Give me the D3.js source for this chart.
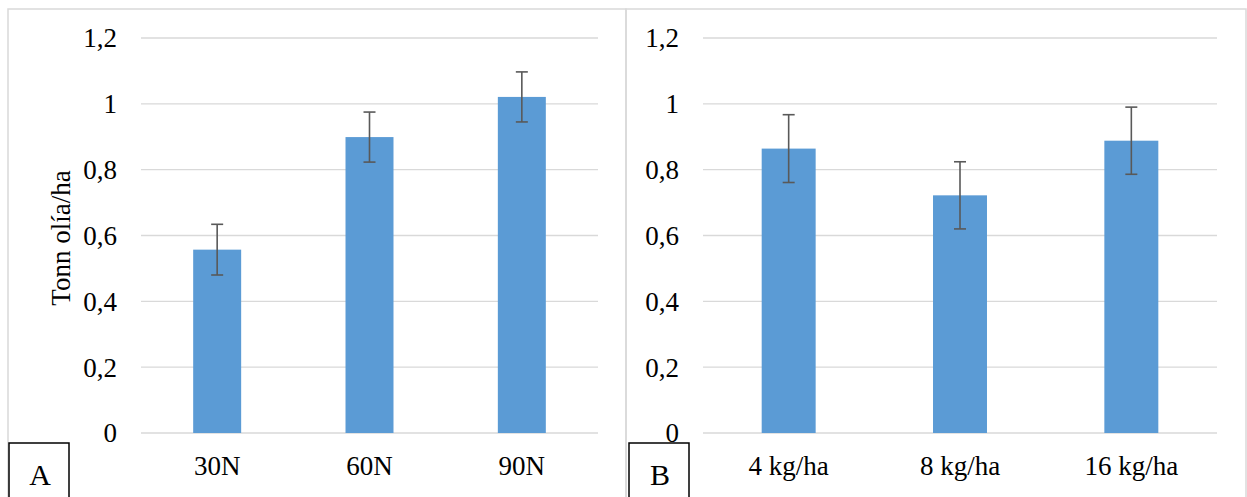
<!DOCTYPE html>
<html>
<head>
<meta charset="utf-8">
<script src="https://cdn.jsdelivr.net/npm/d3@7"></script>
<style>
  body { margin:0; background:#fff; }
  text { font-family: "Liberation Serif", "Times New Roman", serif; fill:#000; }
</style>
</head>
<body>
<script>
// panel A - nitrogen
var catsA = ["30N", "60N", "90N"];
var valsA = [0.557, 0.899, 1.021];
var errA  = [0.077, 0.076, 0.076];
// panel B - seed rate
var catsB = ["4 kg/ha", "8 kg/ha", "16 kg/ha"];
var valsB = [0.864, 0.722, 0.888];
var errB  = [0.103, 0.102, 0.102];
var yTicks = [0, 0.2, 0.4, 0.6, 0.8, 1, 1.2];

var width = 1247, height = 497;
var svg = d3.select('body').append('svg')
  .attr('width', width)
  .attr('height', height);

var y = d3.scaleLinear().domain([0, 1.2]).range([433, 38]);
var fmt = function(d){ return String(d).replace('.', ','); };

var drawPanel = function(cfg){
  // frame
  svg.append('rect')
    .attr('x', cfg.left).attr('y', 9)
    .attr('width', cfg.right - cfg.left).attr('height', 500)
    .attr('fill', 'none')
    .attr('stroke', '#d9d9d9')
    .attr('stroke-width', 1.5);

  var x = d3.scaleBand().domain(cfg.cats)
    .range([cfg.x0, cfg.x1])
    .paddingInner(0.685).paddingOuter(0.3425);

  var g = svg.append('g');

  // grid
  g.selectAll('line.grid').data(yTicks).enter()
    .append('line').attr('class', 'grid')
    .attr('x1', cfg.x0).attr('x2', cfg.x1)
    .attr('y1', function(d){ return y(d); })
    .attr('y2', function(d){ return y(d); })
    .attr('stroke', '#d9d9d9')
    .attr('stroke-width', 1.3);

  // tick labels
  g.selectAll('text.tick').data(yTicks).enter()
    .append('text').attr('class', 'tick')
    .attr('x', cfg.x0 - 24)
    .attr('y', function(d){ return y(d); })
    .attr('dy', '0.35em')
    .attr('text-anchor', 'end')
    .style('font-size', '27px')
    .text(fmt);

  // bars
  g.selectAll('rect.bar').data(cfg.vals).enter()
    .append('rect').attr('class', 'bar')
    .attr('x', function(d, i){ return x(cfg.cats[i]); })
    .attr('width', x.bandwidth())
    .attr('y', function(d){ return y(d); })
    .attr('height', function(d){ return y(0) - y(d); })
    .attr('fill', '#5b9bd5');

  // error bars
  var eb = g.selectAll('g.err').data(cfg.vals).enter().append('g')
    .attr('transform', function(d, i){ return 'translate(' + (x(cfg.cats[i]) + x.bandwidth() / 2) + ',0)'; });
  eb.append('line')
    .attr('x1', 0).attr('x2', 0)
    .attr('y1', function(d, i){ return y(d + cfg.err[i]); })
    .attr('y2', function(d, i){ return y(d - cfg.err[i]); });
  eb.append('line')
    .attr('x1', -6).attr('x2', 6)
    .attr('y1', function(d, i){ return y(d + cfg.err[i]); })
    .attr('y2', function(d, i){ return y(d + cfg.err[i]); });
  eb.append('line')
    .attr('x1', -6).attr('x2', 6)
    .attr('y1', function(d, i){ return y(d - cfg.err[i]); })
    .attr('y2', function(d, i){ return y(d - cfg.err[i]); });
  eb.selectAll('line')
    .attr('stroke', '#595959')
    .attr('stroke-width', 1.6);

  // category labels
  g.selectAll('text.cat').data(cfg.cats).enter()
    .append('text').attr('class', 'cat')
    .attr('x', function(d){ return x(d) + x.bandwidth() / 2; })
    .attr('y', 475)
    .attr('text-anchor', 'middle')
    .style('font-size', '27px')
    .text(function(d){ return d; });

  // panel letter box
  svg.append('rect')
    .attr('x', cfg.boxX).attr('y', 443)
    .attr('width', 60).attr('height', 70)
    .attr('fill', '#fff')
    .attr('stroke', '#000')
    .attr('stroke-width', 1.5);
  svg.append('text')
    .attr('x', cfg.boxX + 31).attr('y', 485)
    .attr('text-anchor', 'middle')
    .style('font-size', '30px')
    .text(cfg.letter);
};

drawPanel({cats: catsA, vals: valsA, err: errA, left: 8, right: 626, x0: 141, x1: 598, boxX: 9, letter: 'A'});
drawPanel({cats: catsB, vals: valsB, err: errB, left: 626, right: 1246, x0: 703, x1: 1217, boxX: 629, letter: 'B'});

// y axis title
svg.append('text')
  .attr('transform', 'translate(70,238) rotate(-90)')
  .attr('text-anchor', 'middle')
  .style('font-size', '27px')
  .text('Tonn olía/ha');
</script>
</body>
</html>
